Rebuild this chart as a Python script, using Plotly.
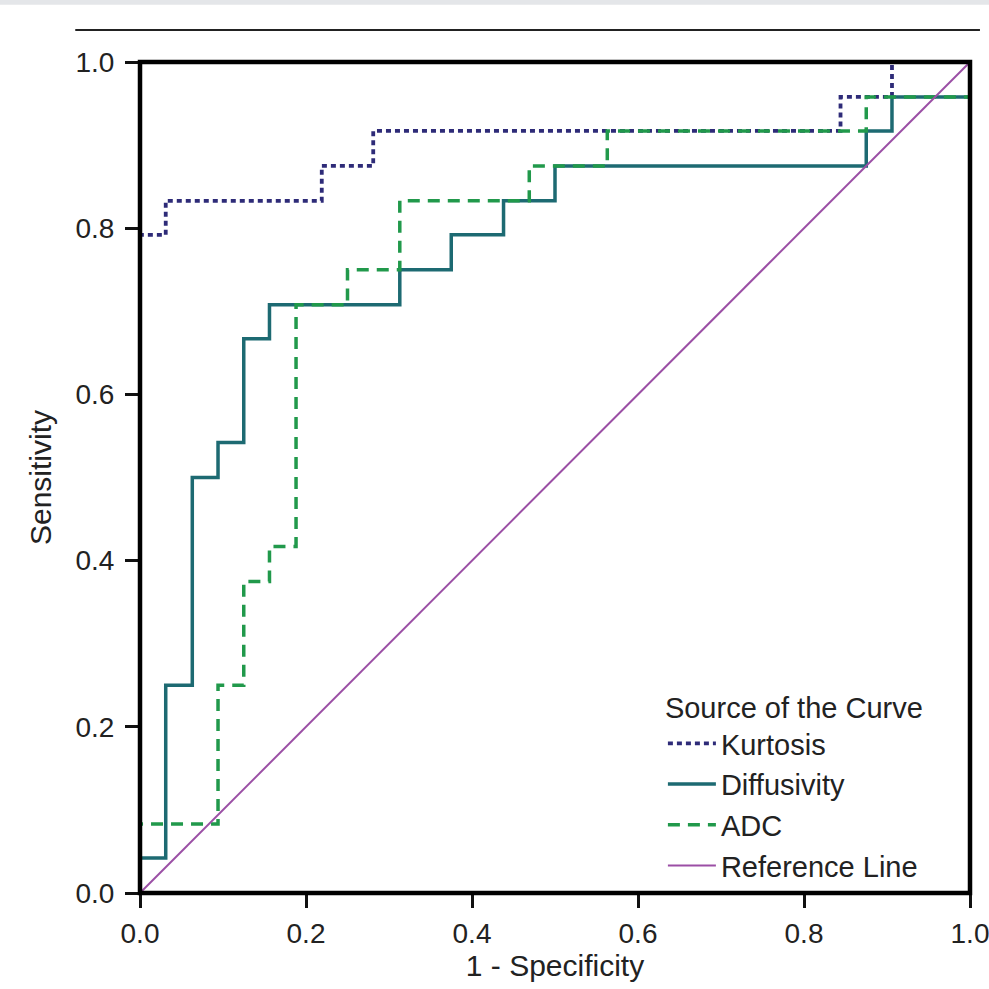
import plotly.graph_objects as go

# ROC curve vertices (1 - Specificity, Sensitivity)
kurt_fpr = [0, 0, 0.031, 0.031, 0.219, 0.219, 0.281, 0.281, 0.844, 0.844, 0.906, 0.906, 1.0]
kurt_tpr = [0, 0.792, 0.792, 0.833, 0.833, 0.875, 0.875, 0.917, 0.917, 0.958, 0.958, 1.0, 1.0]

diff_fpr = [0, 0, 0.031, 0.031, 0.063, 0.063, 0.094, 0.094, 0.125, 0.125, 0.156, 0.156,
            0.313, 0.313, 0.375, 0.375, 0.438, 0.438, 0.5, 0.5, 0.875, 0.875, 0.906, 0.906, 1.0, 1.0]
diff_tpr = [0, 0.042, 0.042, 0.25, 0.25, 0.5, 0.5, 0.542, 0.542, 0.667, 0.667, 0.708,
            0.708, 0.75, 0.75, 0.792, 0.792, 0.833, 0.833, 0.875, 0.875, 0.917, 0.917, 0.958, 0.958, 1.0]

adc_fpr = [0, 0, 0.094, 0.094, 0.125, 0.125, 0.156, 0.156, 0.188, 0.188, 0.25, 0.25,
           0.313, 0.313, 0.469, 0.469, 0.563, 0.563, 0.875, 0.875, 1.0, 1.0]
adc_tpr = [0, 0.083, 0.083, 0.25, 0.25, 0.375, 0.375, 0.417, 0.417, 0.708, 0.708, 0.75,
           0.75, 0.833, 0.833, 0.875, 0.875, 0.917, 0.917, 0.958, 0.958, 1.0]

ref_x = [0, 1]
ref_y = [0, 1]

tick_vals = [0.0, 0.2, 0.4, 0.6, 0.8, 1.0]
tick_text = ["0.0", "0.2", "0.4", "0.6", "0.8", "1.0"]

FONT = "Liberation Sans, Arial, sans-serif"
TFS = 28   # tick labels
AFS = 30   # axis titles
LFS = 29   # legend
TXT = "#222"

fig = go.Figure()
fig.add_trace(go.Scatter(x=kurt_fpr, y=kurt_tpr, mode="lines", name="Kurtosis",
                         line=dict(color="#2e2b78", width=3.8, dash="5px,4px")))
fig.add_trace(go.Scatter(x=diff_fpr, y=diff_tpr, mode="lines", name="Diffusivity",
                         line=dict(color="#1d6a72", width=3.5)))
fig.add_trace(go.Scatter(x=adc_fpr, y=adc_tpr, mode="lines", name="ADC",
                         line=dict(color="#21994b", width=3.5, dash="12px,8px")))
fig.add_trace(go.Scatter(x=ref_x, y=ref_y, mode="lines", name="Reference Line",
                         line=dict(color="#9b4fa5", width=2)))

axis_common = dict(
    range=[0, 1], tickvals=tick_vals, ticktext=tick_text,
    showgrid=False, zeroline=False, showline=False, automargin=False,
    ticks="outside", ticklen=14, tickwidth=3, tickcolor="#111",
    tickfont=dict(family=FONT, size=TFS, color=TXT), ticklabeloverflow="allow",
)

fig.update_layout(
    width=989, height=989,
    margin=dict(l=140, r=19, t=62, b=96),
    paper_bgcolor="white", plot_bgcolor="white",
    font=dict(family=FONT, size=TFS, color=TXT),
    xaxis=dict(**axis_common, ticklabelstandoff=1,
               title=dict(text="1 - Specificity", font=dict(family=FONT, size=AFS, color=TXT), standoff=4)),
    yaxis=dict(**axis_common, ticklabelstandoff=5,
               title=dict(text="Sensitivity", font=dict(family=FONT, size=AFS, color=TXT), standoff=14)),
    legend=dict(
        title=dict(text="Source of the Curve", font=dict(family=FONT, size=LFS, color=TXT)),
        font=dict(family=FONT, size=LFS, color=TXT),
        x=0.63, y=0.256, xanchor="left", yanchor="top",
        bgcolor="rgba(0,0,0,0)", borderwidth=0, tracegroupgap=0, itemwidth=48,
    ),
    showlegend=True,
    shapes=[
        dict(type="rect", xref="paper", yref="paper", x0=-0.2, x1=1.05, y0=1.069, y1=1.08,
             fillcolor="#e4e6e9", line=dict(width=0), layer="below"),
        dict(type="line", xref="paper", yref="paper", x0=-0.078, x1=1.012, y0=1.0385, y1=1.0385,
             line=dict(color="#222", width=2)),
        dict(type="rect", xref="paper", yref="paper", x0=0, x1=1, y0=0, y1=1,
             line=dict(color="black", width=4.5), fillcolor="rgba(0,0,0,0)", layer="above"),
    ],
)

fig.write_html("out.html")
